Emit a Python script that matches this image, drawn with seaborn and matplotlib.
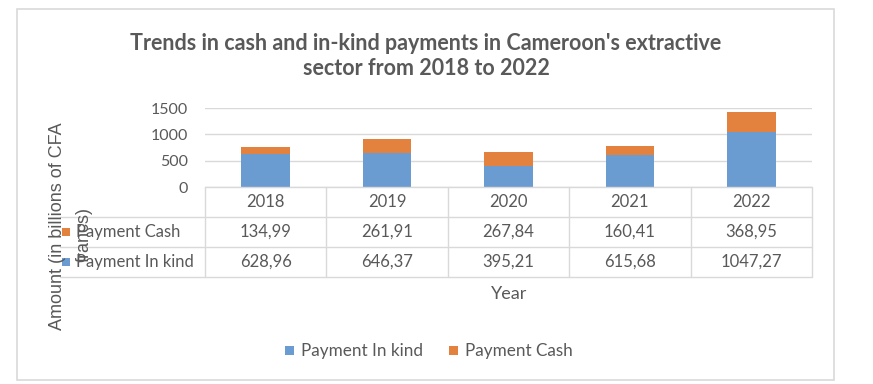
import matplotlib
matplotlib.use("Agg")
import matplotlib.pyplot as plt
from matplotlib.patches import Rectangle
from matplotlib.lines import Line2D
import seaborn as sns
import pandas as pd

years = ["2018", "2019", "2020", "2021", "2022"]
payment_cash = [134.99, 261.91, 267.84, 160.41, 368.95]
payment_in_kind = [628.96, 646.37, 395.21, 615.68, 1047.27]
y_ticks = [0, 500, 1000, 1500]
series_names = ["Payment In kind", "Payment Cash"]

title = "Trends in cash and in-kind payments in Cameroon's extractive\nsector from 2018 to 2022"
y_label_1 = "Amount (in billions of CFA"
y_label_2 = "francs)"
x_label = "Year"

BLUE = "#6A9BD1"
ORANGE = "#E2823E"
GRID = "#D9D9D9"
TXT = "#595959"

sns.set_theme(style="white")
plt.rcParams["font.family"] = ["Lato", "DejaVu Sans"]

W, H = 873, 384
fig = plt.figure(figsize=(W / 100, H / 100), dpi=100)

def fx(x):
    return x / W

def fy(y):
    return 1 - y / H

df = pd.DataFrame({
    "Year": years,
    "Cash": payment_cash,
    "InKind": payment_in_kind,
})
df["Total"] = df["Cash"] + df["InKind"]

# plot area
L, R, T, B = 205, 812, 108, 187
ax = fig.add_axes([fx(L), fy(B), (R - L) / W, (B - T) / H])
sns.barplot(data=df, x="Year", y="Total", color=ORANGE, width=0.4,
            saturation=1, ax=ax, linewidth=0)
sns.barplot(data=df, x="Year", y="InKind", color=BLUE, width=0.4,
            saturation=1, ax=ax, linewidth=0)
ax.set_xlim(-0.5, len(years) - 0.5)
ax.set_ylim(0, 1500)
ax.set_yticks(y_ticks)
ax.set_yticklabels([str(v) for v in y_ticks])
ax.set_xticks([])
ax.set_xlabel("")
ax.set_ylabel("")
for s in ax.spines.values():
    s.set_visible(False)
ax.grid(axis="y", color=GRID, linewidth=1)
ax.set_axisbelow(True)
ax.tick_params(axis="y", length=0, pad=12, labelsize=11.5, labelcolor=TXT)
for lbl in ax.get_yticklabels():
    lbl.set_fontfamily(["Lato", "DejaVu Sans"])

# data table
row_y = [187, 217, 247, 277]
ncol = len(years)
colw = (R - L) / ncol
lines = []
for y in row_y[1:]:
    lines.append(Line2D([fx(60), fx(R)], [fy(y), fy(y)]))
lines.append(Line2D([fx(L), fx(R)], [fy(187), fy(187)]))
for k in range(ncol + 1):
    x = L + k * colw
    lines.append(Line2D([fx(x), fx(x)], [fy(187), fy(277)]))
for ln in lines:
    ln.set_color(GRID)
    ln.set_linewidth(1)
    ln.set_transform(fig.transFigure)
    fig.add_artist(ln)

def fmt(v):
    return f"{v:.2f}".replace(".", ",")

FS = 12
for k, yr in enumerate(years):
    cx = L + (k + 0.5) * colw
    fig.text(fx(cx), fy(202), yr, ha="center", va="center", fontsize=FS, color=TXT)
    fig.text(fx(cx), fy(232), fmt(payment_cash[k]), ha="center", va="center", fontsize=FS, color=TXT)
    fig.text(fx(cx), fy(262), fmt(payment_in_kind[k]), ha="center", va="center", fontsize=FS, color=TXT)

# row labels with keys
for name, col, yc in [(series_names[1], ORANGE, 232), (series_names[0], BLUE, 262)]:
    fig.add_artist(Rectangle((fx(62), fy(yc + 4)), 8 / W, 8 / H, transform=fig.transFigure,
                             facecolor=col, edgecolor="none"))
    fig.text(fx(76), fy(yc), name, ha="left", va="center", fontsize=FS, color=TXT)

# axis titles
fig.text(fx(57), fy(226), y_label_1, rotation=90, ha="center", va="center",
         fontsize=13, color=TXT, family=["Liberation Sans", "DejaVu Sans"])
fig.text(fx(84), fy(235), y_label_2, rotation=90, ha="center", va="center",
         fontsize=13, color=TXT, family=["Liberation Sans", "DejaVu Sans"])
fig.text(fx(509), fy(294), x_label, ha="center", va="center", fontsize=13, color=TXT)

# title
fig.text(fx(426), fy(56), title, ha="center", va="center", fontsize=15.5,
         fontweight="bold", color=TXT, linespacing=1.25)

# bottom legend
leg = [(series_names[0], BLUE, 285, 301), (series_names[1], ORANGE, 449, 465)]
for name, col, kx, tx in leg:
    fig.add_artist(Rectangle((fx(kx), fy(355)), 9 / W, 9 / H, transform=fig.transFigure,
                             facecolor=col, edgecolor="none"))
    fig.text(fx(tx), fy(351), name, ha="left", va="center", fontsize=12.3, color=TXT)

# outer border
fig.add_artist(Rectangle((fx(17), fy(380)), (834 - 17) / W, (380 - 9) / H,
                         transform=fig.transFigure, facecolor="none",
                         edgecolor=GRID, linewidth=1.2))

fig.savefig("out.png", dpi=100, facecolor="white")
